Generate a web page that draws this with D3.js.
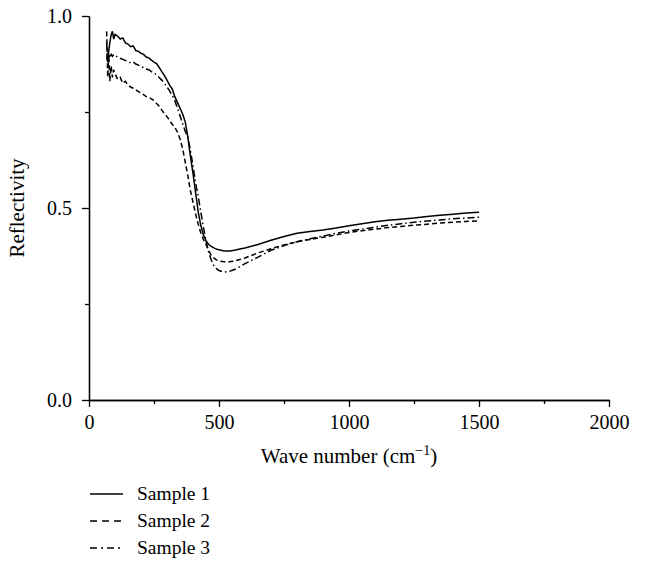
<!DOCTYPE html>
<html>
<head>
<meta charset="utf-8">
<script src="https://cdn.jsdelivr.net/npm/d3@7"></script>
<style>
  body { margin: 0; background: #fff; }
  text { font-family: "Liberation Serif", "Times New Roman", serif; fill: #000; }
  .axis path, .axis line { stroke: #000; stroke-width: 1.3; }
  .axis text { font-size: 20px; font-family: "Liberation Serif", serif; }
</style>
</head>
<body>
<div id="chart"></div>
<script>
  // wave number (cm^-1) shared by all samples
  var waveNumbers = [68, 72, 76, 80, 85, 90, 95, 100,
    110, 120, 130, 140, 150, 160, 170, 180, 190, 200,
    210, 220, 230, 240, 250, 260, 270, 280, 290, 300,
    310, 320, 330, 340, 350, 360, 370, 380, 390, 400,
    410, 420, 430, 440, 450, 460, 470, 480, 490, 500,
    520, 540, 560, 580, 600, 650, 700, 750, 800, 850,
    900, 950, 1000, 1050, 1100, 1150, 1200, 1250, 1300, 1350,
    1400, 1450, 1500];

  var sample1 = [0.90, 0.88, 0.91, 0.93, 0.95, 0.96, 0.94, 0.952,
    0.948, 0.94, 0.943, 0.93, 0.927, 0.92, 0.922, 0.91, 0.908, 0.903,
    0.90, 0.893, 0.891, 0.885, 0.88, 0.876, 0.866, 0.855, 0.845, 0.833,
    0.82, 0.81, 0.79, 0.775, 0.76, 0.745, 0.725, 0.685, 0.635, 0.59,
    0.54, 0.49, 0.455, 0.43, 0.415, 0.405, 0.40, 0.396, 0.393, 0.391,
    0.388, 0.388, 0.390, 0.393, 0.396, 0.405, 0.416, 0.426, 0.434, 0.439,
    0.443, 0.448, 0.454, 0.459, 0.464, 0.468, 0.471, 0.474, 0.478, 0.481,
    0.484, 0.487, 0.489];

  var sample2 = [0.96, 0.84, 0.90, 0.83, 0.87, 0.84, 0.86, 0.85,
    0.835, 0.84, 0.825, 0.83, 0.82, 0.815, 0.812, 0.808, 0.803, 0.80,
    0.795, 0.79, 0.788, 0.784, 0.78, 0.772, 0.765, 0.755, 0.746, 0.738,
    0.728, 0.718, 0.71, 0.698, 0.68, 0.655, 0.62, 0.585, 0.545, 0.515,
    0.485, 0.458, 0.435, 0.418, 0.405, 0.39, 0.377, 0.37, 0.365, 0.362,
    0.36, 0.36, 0.362, 0.366, 0.37, 0.383, 0.394, 0.404, 0.412, 0.418,
    0.424, 0.43, 0.436, 0.441, 0.445, 0.449, 0.452, 0.455, 0.458, 0.461,
    0.463, 0.465, 0.466];

  var sample3 = [0.93, 0.88, 0.90, 0.895, 0.90, 0.895, 0.90, 0.898,
    0.893, 0.89, 0.887, 0.884, 0.882, 0.878, 0.88, 0.875, 0.872, 0.868,
    0.866, 0.862, 0.86, 0.855, 0.852, 0.846, 0.84, 0.833, 0.825, 0.815,
    0.805, 0.793, 0.78, 0.76, 0.74, 0.72, 0.70, 0.685, 0.65, 0.61,
    0.565, 0.53, 0.49, 0.45, 0.415, 0.385, 0.365, 0.35, 0.342, 0.337,
    0.333, 0.335, 0.34, 0.347, 0.355, 0.372, 0.39, 0.402, 0.412, 0.42,
    0.427, 0.434, 0.44, 0.445, 0.45, 0.455, 0.459, 0.463, 0.466, 0.469,
    0.472, 0.474, 0.476];

  var seriesNames = ['Sample 1', 'Sample 2', 'Sample 3'];
  var xTicks = [0, 500, 1000, 1500, 2000];
  var xMinorTicks = [250, 750, 1250, 1750];
  var yTicks = [0.0, 0.5, 1.0];
  var yMinorTicks = [0.25, 0.75];

  var series = [sample1, sample2, sample3].map(function(vals, i) {
    return { name: seriesNames[i], values: vals.map(function(v, j) { return [waveNumbers[j], v]; }) };
  });
  var dashes = ['none', '5,3', '7,3,1.5,3'];
  var legendDashes = ['none', '7,5', '7,4,2,4'];

  var margin = { top: 16, right: 36, bottom: 163, left: 89 };
  var width = 645 - margin.left - margin.right;
  var height = 563 - margin.top - margin.bottom;

  var svg = d3.select('#chart')
    .append('svg')
    .attr('width', 645)
    .attr('height', 563)
    .append('g')
    .attr('transform', 'translate(' + margin.left + ',' + margin.top + ')');

  var x = d3.scaleLinear().domain([0, 2000]).range([0, width]);
  var y = d3.scaleLinear().domain([0, 1]).range([height, 0]);

  // axes: major then minor ticks
  svg.append('g')
    .attr('class', 'axis')
    .attr('transform', 'translate(0,' + height + ')')
    .call(d3.axisBottom(x).tickValues(xTicks).tickSize(7).tickSizeOuter(0).tickPadding(8)
      .tickFormat(d3.format('d')));
  svg.append('g')
    .attr('class', 'axis')
    .attr('transform', 'translate(0,' + height + ')')
    .call(d3.axisBottom(x).tickValues(xMinorTicks).tickSize(4).tickSizeOuter(0).tickFormat(''));

  svg.append('g')
    .attr('class', 'axis')
    .call(d3.axisLeft(y).tickValues(yTicks).tickSize(7).tickSizeOuter(0).tickPadding(10)
      .tickFormat(d3.format('.1f')));
  svg.append('g')
    .attr('class', 'axis')
    .call(d3.axisLeft(y).tickValues(yMinorTicks).tickSize(4).tickSizeOuter(0).tickFormat(''));

  // axis titles
  var xLabel = svg.append('text')
    .attr('x', width / 2)
    .attr('y', height + 63)
    .attr('text-anchor', 'middle')
    .style('font-size', '21px');
  xLabel.append('tspan').text('Wave number (cm');
  xLabel.append('tspan').attr('dy', -8).style('font-size', '14px').text('\u22121');
  xLabel.append('tspan').attr('dy', 8).text(')');

  svg.append('text')
    .attr('transform', 'translate(' + (-65) + ',' + (height / 2) + ') rotate(-90)')
    .attr('text-anchor', 'middle')
    .style('font-size', '21px')
    .text('Reflectivity');

  var line = d3.line()
    .x(function(d) { return x(d[0]); })
    .y(function(d) { return y(d[1]); });

  svg.selectAll('.curve')
    .data(series)
    .enter().append('path')
    .attr('class', 'curve')
    .attr('d', function(d) { return line(d.values); })
    .attr('fill', 'none')
    .attr('stroke', '#000')
    .attr('stroke-width', 1.5)
    .attr('stroke-dasharray', function(d, i) { return dashes[i]; });

  // legend below the plot
  var legend = svg.selectAll('.legend')
    .data(series)
    .enter().append('g')
    .attr('class', 'legend')
    .attr('transform', function(d, i) { return 'translate(0,' + (height + 94 + i * 27) + ')'; });

  legend.append('line')
    .attr('x1', 1)
    .attr('x2', 34)
    .attr('stroke', '#000')
    .attr('stroke-width', 1.3)
    .attr('stroke-dasharray', function(d, i) { return legendDashes[i]; });

  legend.append('text')
    .attr('x', 48)
    .attr('dy', 6)
    .style('font-size', '19.5px')
    .text(function(d) { return d.name; });
</script>
</body>
</html>
